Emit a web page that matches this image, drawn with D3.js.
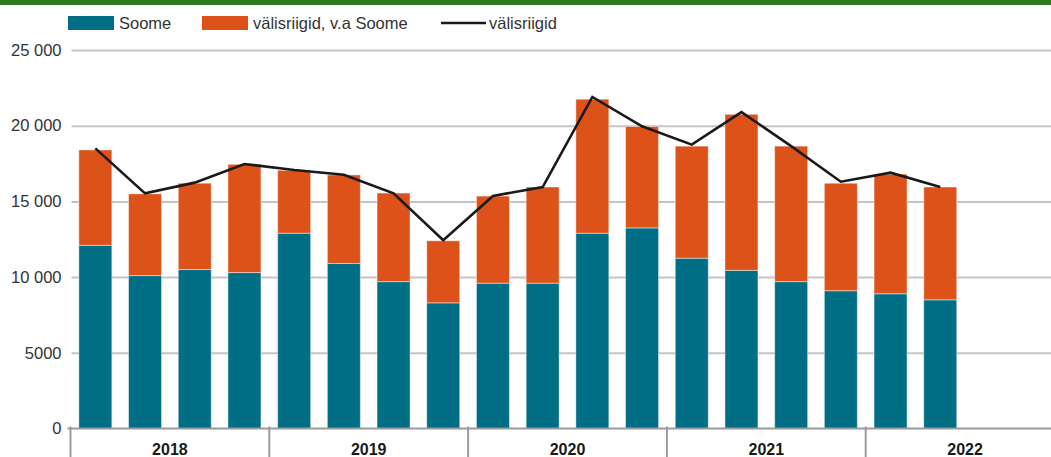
<!DOCTYPE html>
<html>
<head>
<meta charset="utf-8">
<script src="https://cdn.jsdelivr.net/npm/d3@7"></script>
<style>
  html, body { margin: 0; padding: 0; background: #fff; overflow: hidden; }
  svg { display: block; font-family: "Liberation Sans", Arial, Helvetica, sans-serif; }
</style>
</head>
<body>
<svg id="chart" width="1051" height="457"></svg>
<script>
// ---- data ----
const years = ["2018", "2019", "2020", "2021", "2022"];
const quarters = ["I", "II", "III", "IV"];
const soome = [12100, 10100, 10500, 10300, 12900, 10900, 9700, 8300, 9600, 9600, 12900, 13250, 11250, 10450, 9700, 9100, 8900, 8500];
const muud = [6300, 5400, 5700, 7150, 4150, 5850, 5850, 4100, 5750, 6350, 8850, 6700, 7400, 10300, 8950, 7100, 7900, 7450];
const valisriigid = [18500, 15530, 16240, 17470, 17070, 16760, 15530, 12430, 15360, 15950, 21900, 19960, 18750, 20900, 18650, 16300, 16900, 15950];
const yTicks = [0, 5000, 10000, 15000, 20000, 25000];
const seriesNames = ["Soome", "välisriigid, v.a Soome", "välisriigid"];

const colors = { soome: "#006e84", muud: "#dc5218", line: "#1a1a1a" };

// ---- layout ----
const svg = d3.select("#chart");
const W = 1051, H = 457;
const x0 = 70.5, x1 = 1064.5, yTop = 50, yBot = 428.5;

const slots = [];
years.forEach(y => quarters.forEach(q => slots.push(y + "-" + q)));

const x = d3.scaleBand().domain(slots).range([x0, x1]).paddingInner(0.336).paddingOuter(0.168);
const y = d3.scaleLinear().domain([0, 25000]).range([yBot, yTop]);

const fmt = v => v >= 10000 ? d3.format(",")(v).replace(/,/g, " ") : String(v);

// top green band
svg.append("rect").attr("x", 0).attr("y", 0).attr("width", W).attr("height", 5).attr("fill", "#2e7b1f");

// gridlines + y labels
const yAxis = d3.axisLeft(y).tickValues(yTicks).tickSize(0).tickFormat(fmt);
const gy = svg.append("g").attr("transform", `translate(${x0},0)`).call(yAxis);
gy.select(".domain").remove();
gy.selectAll("text").attr("x", -9).attr("font-size", 16.5).attr("fill", "#333").attr("font-family", "Liberation Sans, Arial, sans-serif");
gy.selectAll(".tick").filter(d => d > 0).append("line")
  .attr("x1", 1).attr("x2", W - x0).attr("stroke", "#c4c4c4").attr("stroke-width", 2);

// bars
const data = soome.map((s, i) => ({ key: slots[i], s, m: muud[i], l: valisriigid[i] }));
const bw = x.bandwidth();
const gb = svg.append("g");
gb.selectAll("rect.s").data(data).join("rect").attr("class", "s")
  .attr("x", d => x(d.key)).attr("width", bw)
  .attr("y", d => y(d.s)).attr("height", d => y(0) - y(d.s))
  .attr("fill", colors.soome).attr("stroke", "#ffffff").attr("stroke-opacity", 0.45).attr("stroke-width", 1);
gb.selectAll("rect.m").data(data).join("rect").attr("class", "m")
  .attr("x", d => x(d.key)).attr("width", bw)
  .attr("y", d => y(d.s + d.m)).attr("height", d => y(d.s) - y(d.s + d.m))
  .attr("fill", colors.muud).attr("stroke", "#ffffff").attr("stroke-opacity", 0.45).attr("stroke-width", 1);

// line
const line = d3.line().x(d => x(d.key) + bw / 2).y(d => y(d.l));
svg.append("path").datum(data).attr("d", line)
  .attr("fill", "none").attr("stroke", colors.line).attr("stroke-width", 2.6).attr("stroke-linejoin", "miter");

// x axis
const gx = svg.append("g");
gx.append("line").attr("x1", x0 - 3).attr("x2", W).attr("y1", yBot).attr("y2", yBot)
  .attr("stroke", "#9a9a9a").attr("stroke-width", 2);
const yearScale = d3.scaleBand().domain(years).range([x0, x1]);
years.forEach(yr => {
  const xs = yearScale(yr);
  gx.append("line").attr("x1", xs).attr("x2", xs).attr("y1", yBot - 2).attr("y2", H)
    .attr("stroke", "#9a9a9a").attr("stroke-width", 2);
  gx.append("text").attr("x", xs + yearScale.bandwidth() / 2).attr("y", 455)
    .attr("text-anchor", "middle").attr("font-size", 16).attr("font-weight", "bold")
    .attr("fill", "#1a1a1a").text(yr);
});

// legend
const lg = svg.append("g").attr("font-size", 16.5).attr("fill", "#333");
lg.append("rect").attr("x", 68).attr("y", 16).attr("width", 46).attr("height", 14).attr("fill", colors.soome);
lg.append("text").attr("x", 119).attr("y", 29).text(seriesNames[0]);
lg.append("rect").attr("x", 202).attr("y", 16).attr("width", 46).attr("height", 14).attr("fill", colors.muud);
lg.append("text").attr("x", 253).attr("y", 29).text(seriesNames[1]);
lg.append("line").attr("x1", 441).attr("x2", 486).attr("y1", 23).attr("y2", 23).attr("stroke", colors.line).attr("stroke-width", 2.6);
lg.append("text").attr("x", 489).attr("y", 29).text(seriesNames[2]);
</script>
</body>
</html>
